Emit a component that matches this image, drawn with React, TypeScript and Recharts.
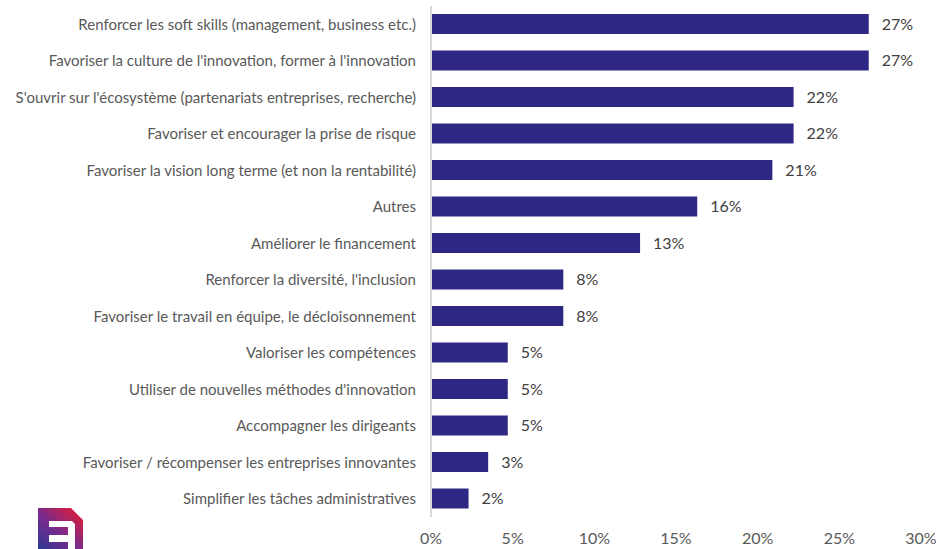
import React from "react";
import { BarChart, Bar, XAxis, YAxis, LabelList } from "recharts";

const categories = [
  "Renforcer les soft skills (management, business etc.)",
  "Favoriser la culture de l'innovation, former à l'innovation",
  "S'ouvrir sur l'écosystème (partenariats entreprises, recherche)",
  "Favoriser et encourager la prise de risque",
  "Favoriser la vision long terme (et non la rentabilité)",
  "Autres",
  "Améliorer le financement",
  "Renforcer la diversité, l'inclusion",
  "Favoriser le travail en équipe, le décloisonnement",
  "Valoriser les compétences",
  "Utiliser de nouvelles méthodes d'innovation",
  "Accompagner les dirigeants",
  "Favoriser / récompenser les entreprises innovantes",
  "Simplifier les tâches administratives",
];

const values = [26.8, 26.8, 22.2, 22.2, 20.9, 16.3, 12.8, 8.1, 8.1, 4.7, 4.7, 4.7, 3.5, 2.3];
const valueLabels = ["27%", "27%", "22%", "22%", "21%", "16%", "13%", "8%", "8%", "5%", "5%", "5%", "3%", "2%"];
const xTicks = [0, 5, 10, 15, 20, 25, 30];

const data = categories.map((name, i) => ({
  name,
  value: values[i],
  label: valueLabels[i],
}));

const font = "Lato, 'Open Sans', sans-serif";

// small brand logo, bottom-left corner
const Logo = () => (
  <svg
    width={939}
    height={549}
    style={{ position: "absolute", left: 0, top: 0, pointerEvents: "none" }}
  >
    <defs>
      <linearGradient id="logoGrad" x1="1" y1="0" x2="0" y2="1">
        <stop offset="0%" stopColor="#ec1c2b" />
        <stop offset="55%" stopColor="#7a2a8c" />
        <stop offset="100%" stopColor="#2b3a95" />
      </linearGradient>
    </defs>
    <path
      d="M38 508 H71 L83 520 V549 H75 V524 L72 521 H49 V527 H68 V535 H49 V542 H68 V549 H38 Z"
      fill="url(#logoGrad)"
    />
  </svg>
);

const App = () => {
  return (
    <div style={{ position: "absolute", left: 0, top: 0, width: 939, height: 549 }}>
      <BarChart
        width={939}
        height={549}
        data={data}
        layout="vertical"
        margin={{ top: 6, right: 18, left: 0, bottom: 2 }}
        barCategoryGap="45%"
      >
        <XAxis
          type="number"
          domain={[0, 30]}
          ticks={xTicks}
          tickFormatter={(v: number) => `${v}%`}
          axisLine={false}
          tickLine={false}
          tickSize={8}
          tickMargin={8}
          height={30}
          interval={0}
          tick={{ fill: "#595959", fontSize: 16, fontFamily: font }}
        />
        <YAxis
          type="category"
          dataKey="name"
          width={431}
          axisLine={{ stroke: "#d9d9d9", strokeWidth: 2 }}
          tickLine={false}
          tickSize={6}
          tickMargin={9}
          interval={0}
          tick={{ fill: "#595959", fontSize: 15, fontFamily: font }}
        />
        <Bar dataKey="value" fill="#2e2783" barSize={20} isAnimationActive={false}>
          <LabelList
            dataKey="label"
            position="right"
            offset={13}
            style={{ fill: "#404040", fontSize: 16, fontFamily: font }}
          />
        </Bar>
      </BarChart>
      <Logo />
    </div>
  );
};

export default App;
